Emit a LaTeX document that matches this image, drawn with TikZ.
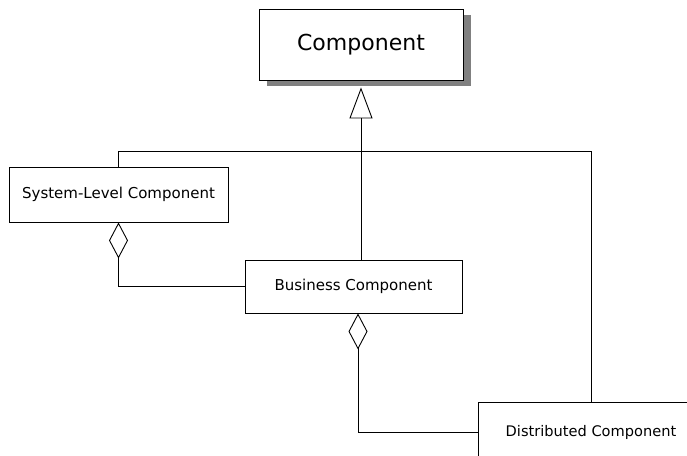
\documentclass[tikz,border=0pt]{standalone}
\usepackage{fontspec}
\setmainfont{DejaVu Sans}
\usetikzlibrary{arrows.meta,shadows}
\begin{document}
\begin{tikzpicture}[x=1pt,y=-1pt,line width=0.9pt,
  classbox/.style={draw=black,fill=white,inner sep=0pt,font=\fontsize{15}{18}\selectfont},
  gen/.style={-{Triangle[open,length=31pt,width=23pt,line width=0.9pt]}},
  agg/.style={-{Diamond[open,length=36pt,width=19pt,line width=0.9pt]}}]
\clip (0,0) rectangle (687,455);
\fill[white] (0,0) rectangle (687,455);

% classes
\node[classbox,minimum width=204pt,minimum height=71pt,
      font=\fontsize{22}{26}\selectfont,
      drop shadow={opacity=1,fill=black!50,shadow xshift=7.5pt,shadow yshift=-6pt}]
      (comp) at (361,44.5) {Component};
\node[classbox,minimum width=219pt,minimum height=55pt] (sys) at (118.5,194.5) {System-Level Component};
\node[classbox,minimum width=217pt,minimum height=53pt] (bus) at (353.5,286.5) {Business Component};
\node[classbox,minimum width=226pt,minimum height=60pt,font=\fontsize{14.6}{18}\selectfont] (dist) at (591,432) {Distributed Component};

% generalization to Component
\coordinate (apex) at ([yshift=-7pt]comp.south);
\coordinate (bar) at (0,151);
\draw[gen] (apex |- bus.north) -- (apex);
\draw (sys.north) -- (sys.north |- bar) -- (dist.north |- bar) -- (dist.north);

% aggregations
\draw[agg] (bus.west) -| (sys.south);
\draw[agg] (dist.west) -| ([xshift=4.5pt]bus.south);
\end{tikzpicture}
\end{document}
